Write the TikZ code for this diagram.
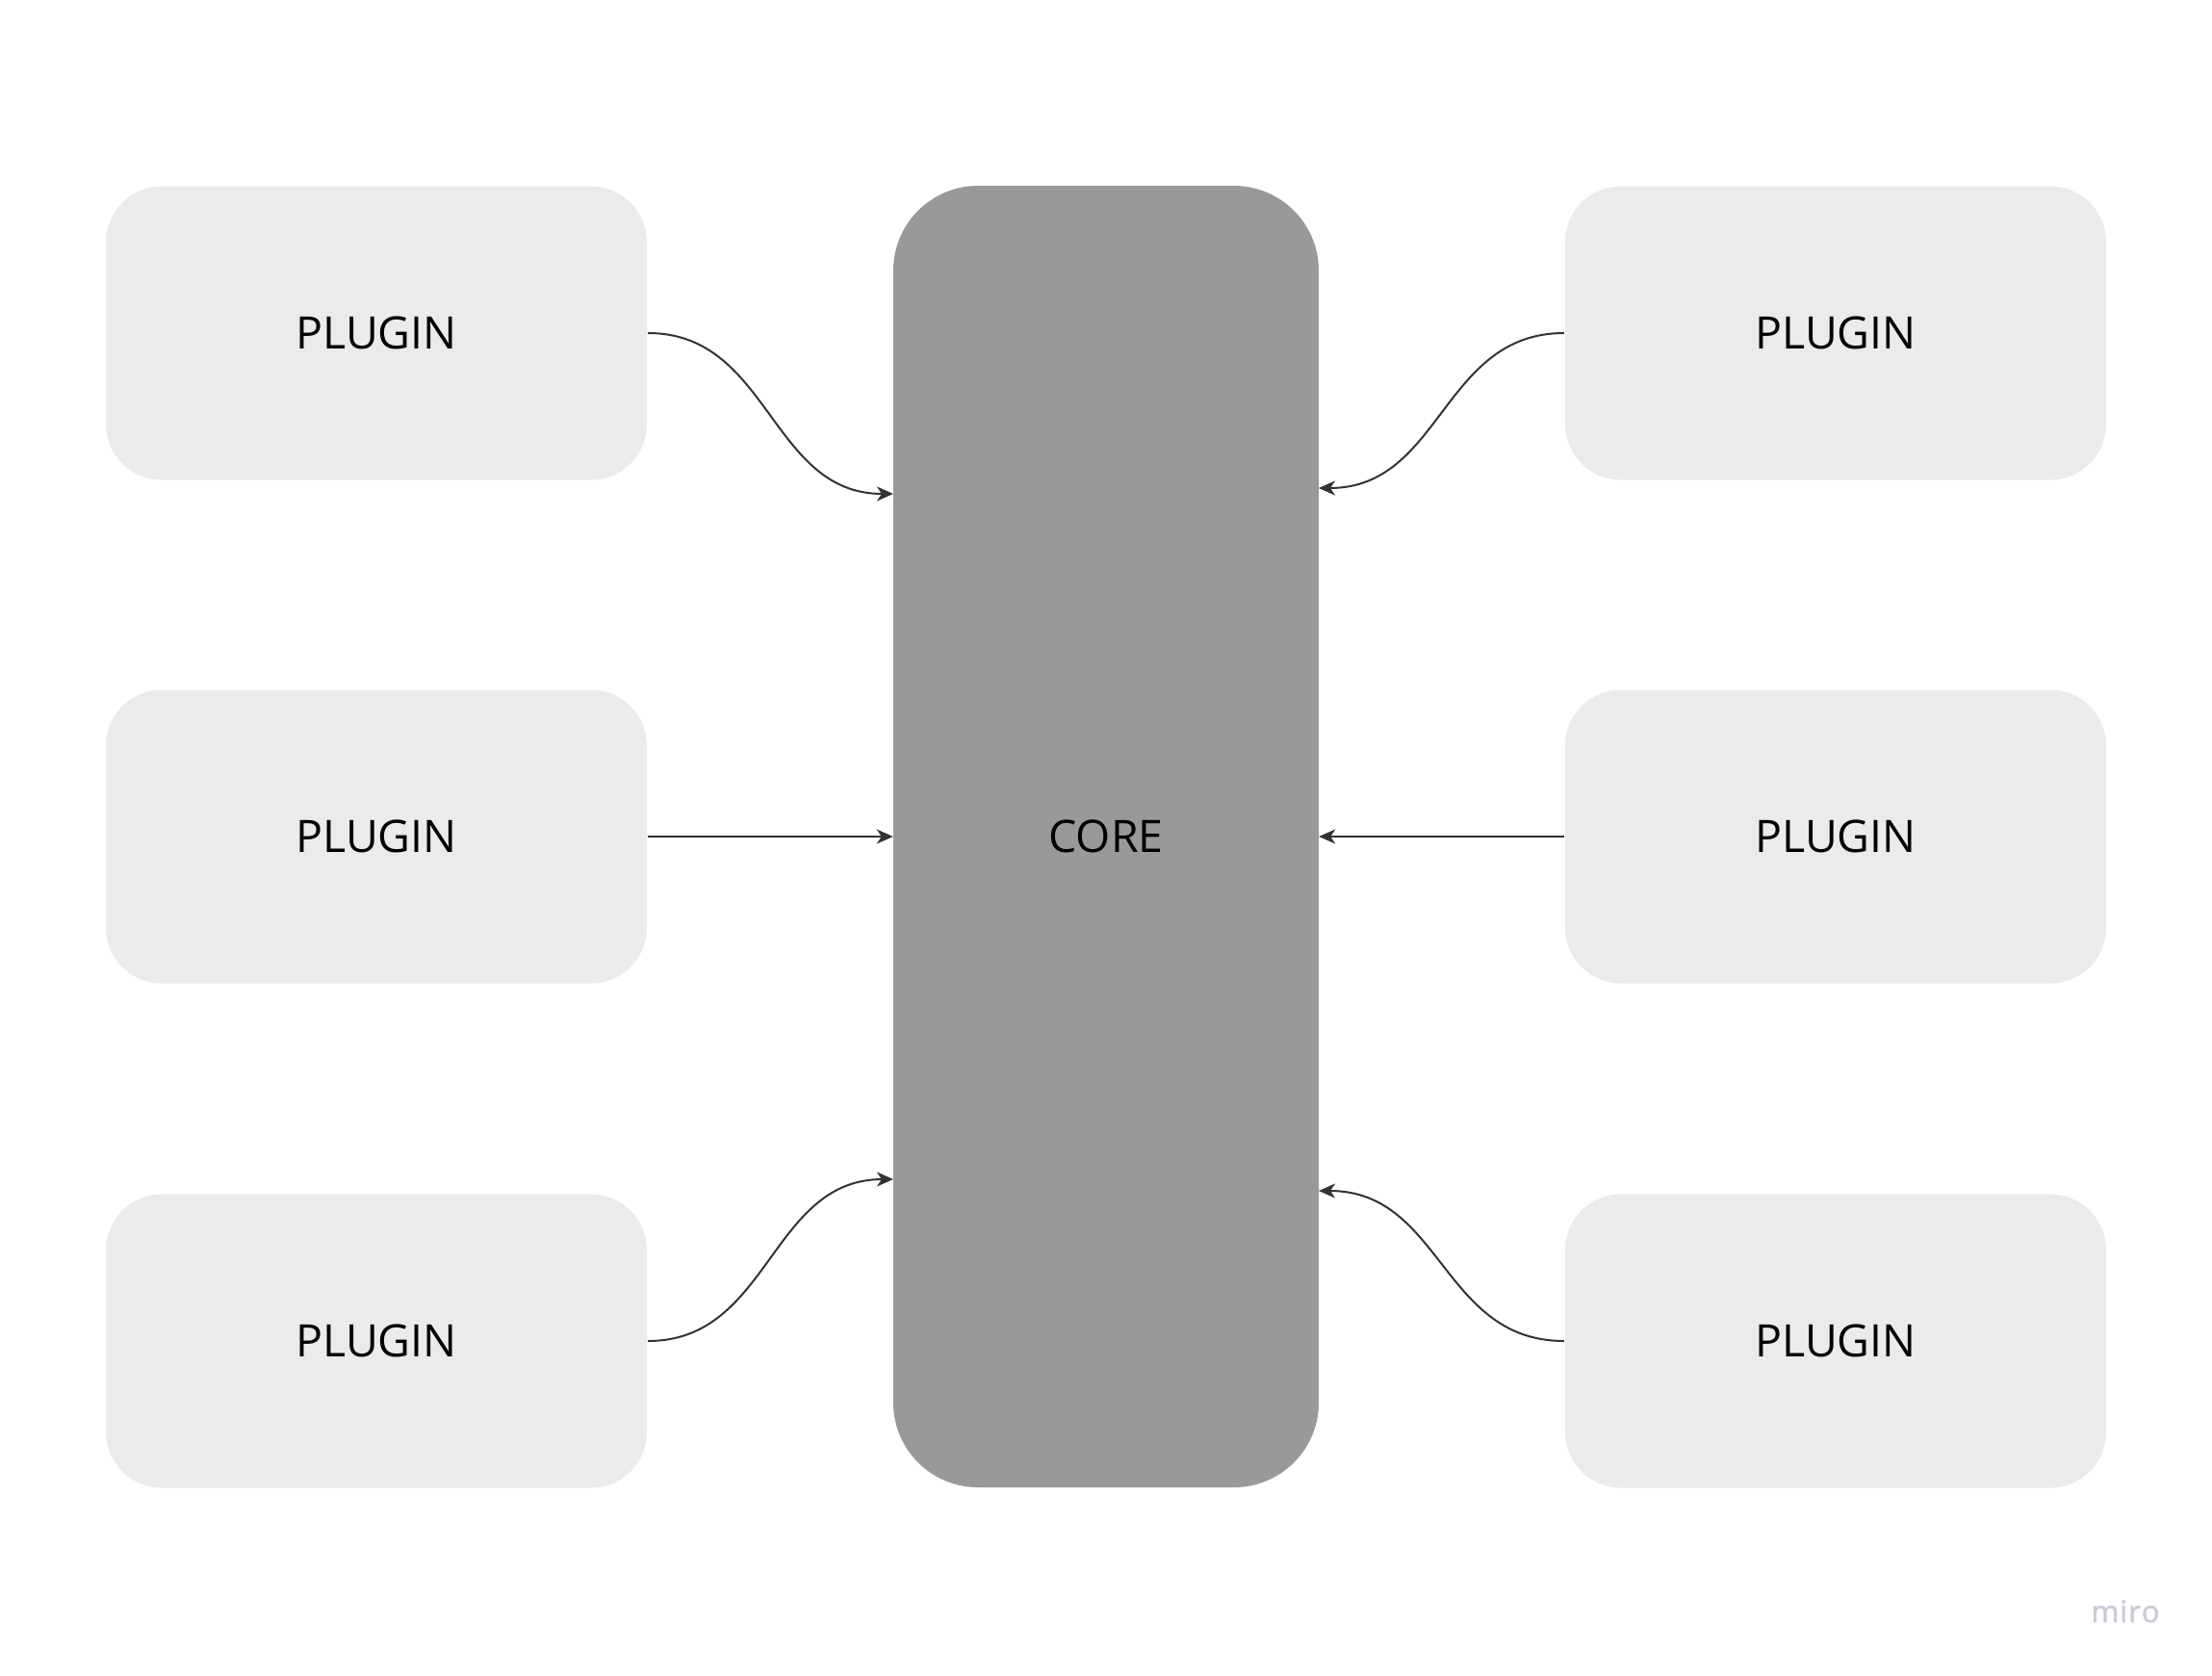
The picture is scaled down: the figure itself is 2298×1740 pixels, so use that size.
\documentclass[tikz,border=0pt]{standalone}
\usepackage{fontspec}
\setmainfont{Open Sans}
\usetikzlibrary{arrows.meta}
\definecolor{plugfill}{HTML}{EBEBEB}
\definecolor{corefill}{HTML}{999999}
\definecolor{linecol}{HTML}{333333}
\definecolor{mirocol}{HTML}{C9C9D6}
\begin{document}
\begin{tikzpicture}[x=1pt,y=-1pt,
  plugbox/.style={fill=plugfill,rounded corners=58pt,minimum width=562pt,minimum height=305pt,inner sep=0pt,font=\fontsize{46.5}{54}\selectfont,text=black},
  corebox/.style={fill=corefill,rounded corners=88pt,minimum width=442pt,minimum height=1352pt,inner sep=0pt,font=\fontsize{46.5}{54}\selectfont,text=black},
  conn/.style={draw=linecol,line width=2pt,-{Stealth[length=17pt,width=15pt,inset=5pt]}}]
\useasboundingbox (0,0) rectangle (2298,1740);
\fill[white] (0,0) rectangle (2298,1740);
\node[corebox] (core) at (1149,869) {CORE};
\node[plugbox] (l1) at (391,346) {PLUGIN};
\node[plugbox] (l2) at (391,869) {PLUGIN};
\node[plugbox] (l3) at (391,1393) {PLUGIN};
\node[plugbox] (r1) at (1907,346) {PLUGIN};
\node[plugbox] (r2) at (1907,869) {PLUGIN};
\node[plugbox] (r3) at (1907,1393) {PLUGIN};
\coordinate (cl1) at (928,513);
\coordinate (cl3) at (928,1225);
\coordinate (cr1) at (1370,507);
\coordinate (cr3) at (1370,1237);
\draw[conn] ([xshift=1pt]l1.east) .. controls (800,346) and (800,513) .. (cl1);
\draw[conn] ([xshift=1pt]l2.east) -- (core.west);
\draw[conn] ([xshift=1pt]l3.east) .. controls (800,1393) and (800,1225) .. (cl3);
\draw[conn] ([xshift=-1pt]r1.west) .. controls (1498,346) and (1498,507) .. (cr1);
\draw[conn] ([xshift=-1pt]r2.west) -- (core.east);
\draw[conn] ([xshift=-1pt]r3.west) .. controls (1498,1393) and (1498,1237) .. (cr3);
\node[text=mirocol,font=\fontsize{31}{36}\selectfont\addfontfeatures{FakeBold=1.5},anchor=base,inner sep=0pt] (miro) at (2208,1685) {m\kern1pt i\kern1pt r\kern1pt o};
\end{tikzpicture}
\end{document}
